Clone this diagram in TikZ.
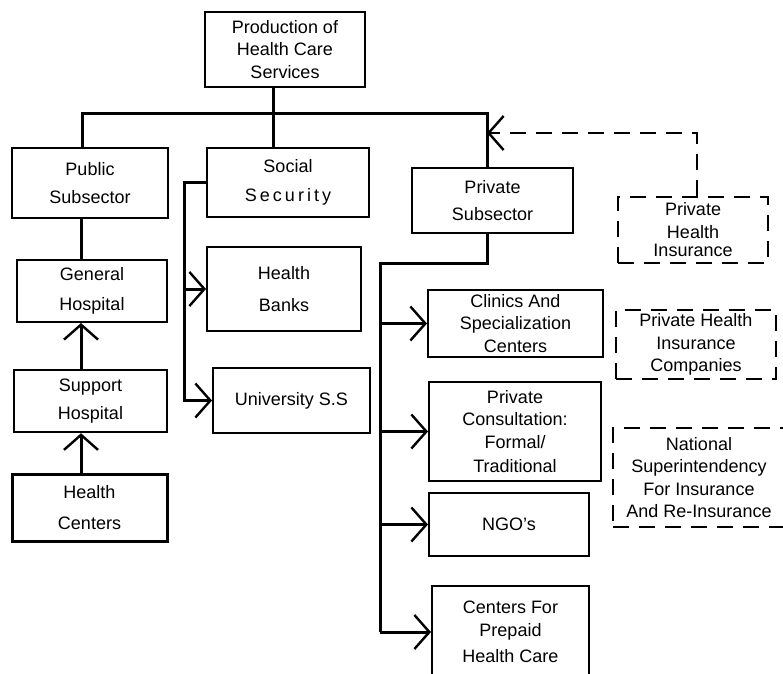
\documentclass[tikz,border=0pt]{standalone}
\usepackage{fontspec}
\setmainfont{Liberation Sans}
\usetikzlibrary{arrows.meta}

\tikzset{
  unit/.style={draw, line width=2pt, align=center, inner sep=0pt,
    font=\fontsize{18}{22.5}\selectfont},
  dunit/.style={unit, line width=2.5pt, dash pattern=on 16pt off 10pt},
  size/.style 2 args={minimum width=#1pt, minimum height=#2pt},
  link/.style={line width=3pt},
  barb/.style={-{Straight Barb[length=15pt 0,width=34pt 0,line width=2.4pt]}},
  feed/.style={link, barb},
}

\begin{document}
\begin{tikzpicture}[x=1pt, y=-1pt]
  \useasboundingbox (0,0) rectangle (783,673);

  % top of the chart
  \node[unit, size={160}{75}] (prod) at (285,49.5) {Production of\\Health Care\\Services};

  % the three subsectors
  \node[unit, size={156}{70}] (pub)  at (90,183)    {Public\\[5pt]Subsector};
  \node[unit, size={162}{69}] (soc)  at (288,182.5) {Social\\[6pt]\addfontfeature{LetterSpace=17}Security};
  \node[unit, size={161}{65}] (priv) at (492.5,200.5) {Private\\[5pt]Subsector};

  % public side
  \node[unit, size={150}{62}] (gen) at (92,291)    {General\\[8pt]Hospital};
  \node[unit, size={153}{62}, line width=2.5pt] (sup) at (90.5,401) {Support\\[6pt]Hospital};
  \node[unit, size={155}{67}, line width=3pt] (hc)  at (89.5,507.5) {Health\\[9pt]Centers};

  % social security side
  \node[unit, size={154}{84}] (banks) at (284,289)   {Health\\[9pt]Banks};
  \node[unit, size={157}{65}] (univ)  at (291.5,400.5) {University S.S};

  % private side
  \node[unit, size={175}{67}] (clin) at (515.5,323.5) {Clinics And\\Specialization\\Centers};
  \node[unit, size={172}{99}] (cons) at (515,431.5)   {Private\\Consultation:\\Formal/\\[2pt]Traditional};
  \node[unit, size={160}{63}] (ngo)  at (509,524.5)   {NGO's};
  \node[unit, size={157}{92}] (prep) at (510.5,632)   {Centers For\\Prepaid\\[4pt]Health Care};

  % insurance (dashed)
  \node[dunit, size={150}{66}] (phi)  at (693,230)   {Private\\Health\\[-4pt]Insurance};
  \node[dunit, size={160}{69}] (phic) at (696,344.5) {Private Health\\Insurance\\Companies};
  \node[dunit, size={172}{99}] (nsi)  at (699,477.5) {National\\Superintendency\\For Insurance\\And Re-Insurance};

  % junctions
  \coordinate (busL) at (82,113);
  \coordinate (busM) at (273,113);
  \coordinate (busR) at (487,113);
  \coordinate (colL) at (81,0);
  \coordinate (ssL)  at (184,0);
  \coordinate (pvL)  at (380,263);
  \coordinate (dj)   at (487,133);

  % bus under the top box
  \draw[link] (busM |- prod.south) -- (busM |- soc.north);
  \draw[link] (busL |- pub.north) -- (busL) -- (busR) -- (busR |- priv.north);

  % public chain
  \draw[link] (colL |- pub.south) -- (colL |- gen.north);
  \draw[feed] (colL |- sup.north) -- (colL |- gen.south);
  \draw[feed] (colL |- hc.north) -- (colL |- sup.south);

  % social security branches
  \draw[feed] (soc.west) -- (soc.west -| ssL) -- (ssL |- univ.west) -- (univ.west);
  \draw[feed] (ssL |- banks.west) -- (banks.west);

  % private trunk and branches
  \draw[link] (priv.south -| busR) -- (busR |- pvL) -- (pvL) -- (pvL |- prep.west);
  \foreach \n in {clin,cons,ngo,prep}
    \draw[feed] (pvL |- \n.west) -- (\n.west);

  % insurance feeding the private subsector
  \draw[link, line width=2.5pt, dash pattern=on 16pt off 10pt, barb]
    (phi.north -| 697,0) |- (dj);
\end{tikzpicture}
\end{document}
